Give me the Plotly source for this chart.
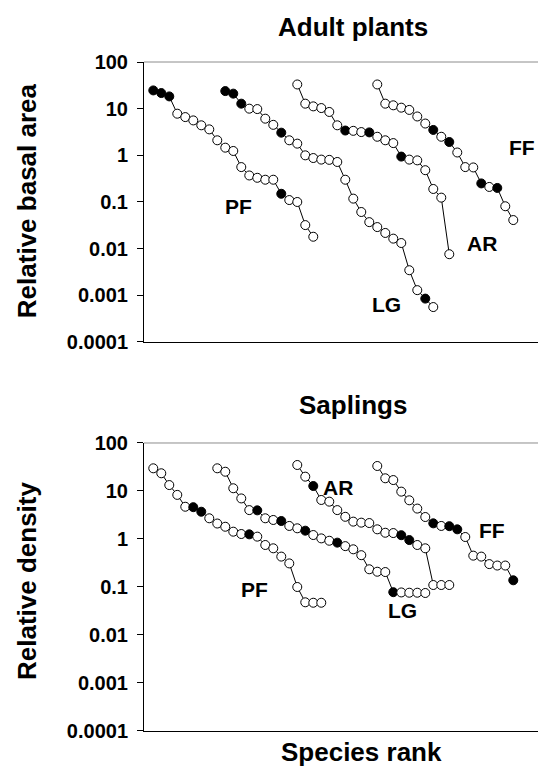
import plotly.graph_objects as go

# ---------------- data ----------------
# Adult plants: relative basal area, ranked
adult_PF = [24.6, 21.6, 18.3, 7.8, 6.6, 5.6, 4.4, 3.6, 2.1, 1.46, 1.24, 0.56, 0.37, 0.33,
            0.30, 0.30, 0.15, 0.11, 0.10, 0.032, 0.018]
adult_PF_black = [1, 2, 3, 17]
adult_LG = [23.8, 21.0, 12.8, 10.0, 9.8, 6.1, 4.5, 3.06, 2.1, 1.78, 1.0, 0.875, 0.81, 0.80,
            0.72, 0.30, 0.118, 0.061, 0.037, 0.029, 0.0217, 0.0164, 0.0132, 0.00345,
            0.00129, 0.00085, 0.00056]
adult_LG_black = [1, 2, 3, 8, 26]
adult_AR = [33, 12.8, 11.2, 10.3, 8.5, 4.4, 3.4, 3.35, 3.15, 3.1, 2.5, 2.1, 1.83, 0.94,
            0.81, 0.78, 0.48, 0.19, 0.124, 0.0076]
adult_AR_black = [7, 10, 14]
adult_FF = [33, 12.8, 11.8, 10.5, 9.4, 6.8, 4.8, 3.5, 2.5, 1.93, 1.15, 0.56, 0.55, 0.25,
            0.21, 0.20, 0.081, 0.041]
adult_FF_black = [8, 10, 14, 16]

# Saplings: relative density, ranked
sap_PF = [29.7, 23.4, 13.3, 8.3, 4.7, 4.6, 3.7, 2.7, 2.1, 1.8, 1.42, 1.27, 1.25, 1.12,
          0.75, 0.64, 0.43, 0.31, 0.10, 0.048, 0.047, 0.047]
sap_PF_black = [6, 7, 13]
sap_LG = [29.7, 25.2, 11.4, 7.0, 4.0, 3.95, 2.7, 2.49, 2.37, 1.87, 1.67, 1.49, 1.21, 1.03,
          0.92, 0.84, 0.71, 0.61, 0.46, 0.234, 0.208, 0.205, 0.078, 0.077, 0.076, 0.076,
          0.075]
sap_LG_black = [6, 9, 12, 16, 23]
sap_AR = [34.8, 19.9, 12.7, 6.5, 6.0, 4.0, 2.9, 2.3, 2.19, 2.15, 1.59, 1.35, 1.33, 1.2,
          0.95, 0.75, 0.64, 0.11, 0.11, 0.11]
sap_AR_black = [3, 14, 15]
sap_FF = [33.2, 18.4, 16.9, 9.7, 6.4, 4.3, 2.87, 2.12, 1.87, 1.85, 1.59, 1.10, 0.45, 0.43,
          0.30, 0.28, 0.28, 0.138]
sap_FF_black = [8, 10, 11, 18]

# horizontal offsets of each curve along the rank axis
adult_offsets = {"PF": 0, "LG": 9, "AR": 18, "FF": 28}
sap_offsets = {"PF": 0, "LG": 8, "AR": 18, "FF": 28}

tick_vals = [0.0001, 0.001, 0.01, 0.1, 1, 10, 100]
tick_text = ["0.0001", "0.001", "0.01", "0.1", "1", "10", "100"]

# label positions (x in rank units, y in log10 units)
adult_labels = {"PF": (11.7, -1.09), "LG": (30.1, -3.19), "AR": (42.1, -1.88), "FF": (47.15, 0.17)}
sap_labels = {"PF": (13.7, -1.06), "AR": (24.1, 1.08), "LG": (32.1, -1.48), "FF": (43.35, 0.17)}

# ---------------- figure ----------------
FONT = "Liberation Sans, Arial, sans-serif"
fig = go.Figure()


def add_series(vals, black, offset, xa, ya):
    xs = [offset + i + 1 for i in range(len(vals))]
    colors = ["black" if (i + 1) in black else "white" for i in range(len(vals))]
    fig.add_trace(go.Scatter(
        x=xs, y=vals, mode="lines+markers", xaxis=xa, yaxis=ya,
        line=dict(color="black", width=1),
        marker=dict(symbol="circle", size=9, color=colors, line=dict(color="black", width=1)),
        showlegend=False, hoverinfo="skip"))


add_series(adult_PF, adult_PF_black, adult_offsets["PF"], "x", "y")
add_series(adult_LG, adult_LG_black, adult_offsets["LG"], "x", "y")
add_series(adult_AR, adult_AR_black, adult_offsets["AR"], "x", "y")
add_series(adult_FF, adult_FF_black, adult_offsets["FF"], "x", "y")
add_series(sap_PF, sap_PF_black, sap_offsets["PF"], "x2", "y2")
add_series(sap_LG, sap_LG_black, sap_offsets["LG"], "x2", "y2")
add_series(sap_AR, sap_AR_black, sap_offsets["AR"], "x2", "y2")
add_series(sap_FF, sap_FF_black, sap_offsets["FF"], "x2", "y2")

xcommon = dict(range=[-0.16, 49.84], showticklabels=False, ticks="", showgrid=False,
               zeroline=False, showline=True, linecolor="black", linewidth=1)
ycommon = dict(type="log", range=[-4, 2], tickvals=tick_vals, ticktext=tick_text,
               ticks="outside", ticklen=6, tickcolor="black", tickwidth=1,
               showgrid=False, zeroline=False, showline=True, linecolor="black", linewidth=1,
               tickfont=dict(family=FONT, size=20, color="black", weight="bold"),
               ticklabelstandoff=5)

# the page body adds an 8px margin, so the figure is 8px smaller than the window
fig.update_layout(
    width=538, height=759,
    margin=dict(l=136, r=2, t=54, b=36),
    paper_bgcolor="white", plot_bgcolor="white",
    xaxis=dict(domain=[0, 1], anchor="y", **xcommon),
    yaxis=dict(domain=[0.5815, 1], anchor="x", **ycommon),
    xaxis2=dict(domain=[0, 1], anchor="y2", **xcommon),
    yaxis2=dict(domain=[0, 0.4305], anchor="x2", **ycommon),
    showlegend=False,
)

# grey top / right frame lines
for xr, yr, right in (("x domain", "y domain", True), ("x2 domain", "y2 domain", False)):
    fig.add_shape(type="line", xref=xr, yref=yr, x0=0, x1=1, y0=1, y1=1,
                  line=dict(color="#8c8c8c", width=1))
    if right:
        fig.add_shape(type="line", xref=xr, yref=yr, x0=1, x1=1, y0=0, y1=1,
                      line=dict(color="#8c8c8c", width=1))

big = dict(family=FONT, size=26, color="black", weight="bold")
lab = dict(family=FONT, size=21, color="black", weight="bold")

fig.add_annotation(text="Adult plants", xref="paper", yref="paper", x=0.5225, y=1.052,
                   showarrow=False, font=big, xanchor="center", yanchor="middle")
fig.add_annotation(text="Saplings", xref="paper", yref="paper", x=0.5225, y=0.4873,
                   showarrow=False, font=big, xanchor="center", yanchor="middle")
fig.add_annotation(text="Species rank", xref="paper", yref="paper", x=0.5425, y=-0.031,
                   showarrow=False, font=big, xanchor="center", yanchor="middle")
fig.add_annotation(text="Relative basal area", xref="paper", yref="paper", x=-0.2925, y=0.792,
                   showarrow=False, font=big, textangle=-90, xanchor="center", yanchor="middle")
fig.add_annotation(text="Relative density", xref="paper", yref="paper", x=-0.2925, y=0.2242,
                   showarrow=False, font=big, textangle=-90, xanchor="center", yanchor="middle")

for name, (lx, ly) in adult_labels.items():
    fig.add_annotation(text=name, xref="x", yref="y", x=lx, y=ly, showarrow=False, font=lab,
                       xanchor="center", yanchor="middle")
for name, (lx, ly) in sap_labels.items():
    fig.add_annotation(text=name, xref="x2", yref="y2", x=lx, y=ly, showarrow=False, font=lab,
                       xanchor="center", yanchor="middle")

fig.write_html("out.html")
